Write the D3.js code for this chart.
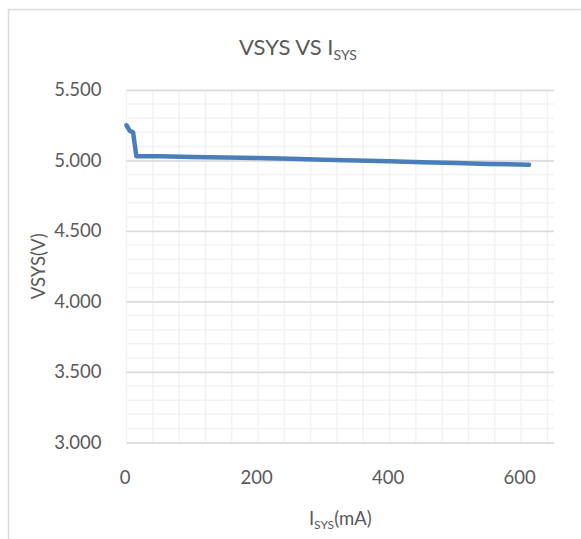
<!DOCTYPE html>
<html>
<head>
<meta charset="utf-8">
<script src="https://cdn.jsdelivr.net/npm/d3@7"></script>
<style>
  body { margin: 0; background: #fff; }
  text { font-family: Lato, "Open Sans", sans-serif; fill: #595959; }
</style>
</head>
<body>
<div id="my_dataviz"></div>
<script>
// data
var current = [0, 5, 10, 15, 50, 100, 150, 200, 250, 300, 350, 400, 450, 500, 550, 612];
var vsys = [5.25, 5.21, 5.20, 5.03, 5.03, 5.025, 5.022, 5.018, 5.012, 5.006, 5.000, 4.995, 4.988, 4.982, 4.976, 4.970];
var xTicks = [0, 200, 400, 600];
var yTicks = [3.0, 3.5, 4.0, 4.5, 5.0, 5.5];

var W = 581, H = 539;
var margin = {top: 90, right: 27, bottom: 96.5, left: 126.5},
    width = W - margin.left - margin.right,
    height = H - margin.top - margin.bottom;

var svg = d3.select("#my_dataviz")
  .append("svg")
    .attr("width", W)
    .attr("height", H);

// chart border (cropped on the right and bottom)
svg.append("rect")
  .attr("x", 8.5).attr("y", 9.5)
  .attr("width", 700).attr("height", 700)
  .attr("fill", "none")
  .attr("stroke", "#d9d9d9")
  .attr("stroke-width", 1.5);

var g = svg.append("g")
  .attr("transform", "translate(" + margin.left + "," + margin.top + ")");

var x = d3.scaleLinear().domain([0, 650]).range([0, width]);
var y = d3.scaleLinear().domain([3, 5.5]).range([height, 0]);

// minor gridlines
g.append("g")
  .selectAll("line")
  .data(d3.range(0, 651, 40))
  .enter().append("line")
    .attr("x1", function(d) { return x(d); })
    .attr("x2", function(d) { return x(d); })
    .attr("y1", 0).attr("y2", height)
    .attr("stroke", "#f2f2f2").attr("stroke-width", 1.5);

g.append("g")
  .selectAll("line")
  .data(d3.range(30, 56, 1).map(function(d) { return d / 10; }))
  .enter().append("line")
    .attr("x1", 0).attr("x2", width)
    .attr("y1", function(d) { return y(d); })
    .attr("y2", function(d) { return y(d); })
    .attr("stroke", "#f2f2f2").attr("stroke-width", 1.5);

// major gridlines + axes
g.append("g")
  .call(d3.axisLeft(y).tickValues(yTicks).tickSize(-width).tickFormat(d3.format(".3f")))
  .call(function(a) {
    a.select(".domain").remove();
    a.selectAll("line").attr("stroke", "#d9d9d9").attr("stroke-width", 1.5);
    a.selectAll("text").attr("x", -25).attr("font-size", "18.5px").attr("fill", "#595959");
  });

g.append("g")
  .attr("transform", "translate(0," + height + ")")
  .call(d3.axisBottom(x).tickValues(xTicks).tickSize(0))
  .call(function(a) {
    a.select(".domain").remove();
    a.selectAll("text").attr("dx", -2).attr("y", 28).attr("font-size", "18.5px").attr("fill", "#595959");
  });

// the curve
var line = d3.line()
  .x(function(d, i) { return x(current[i]); })
  .y(function(d) { return y(d); });

g.append("path")
  .datum(vsys)
  .attr("d", line)
  .attr("fill", "none")
  .attr("stroke", "#4a7ebb")
  .attr("stroke-width", 4.5)
  .attr("stroke-linejoin", "round")
  .attr("stroke-linecap", "round");

// title
var title = svg.append("text")
  .attr("x", 298).attr("y", 55)
  .attr("text-anchor", "middle")
  .attr("font-size", "22px");
title.append("tspan").text("VSYS VS I");
title.append("tspan").attr("font-size", "14px").attr("dy", 5).text("SYS");

// axis titles
var xt = svg.append("text")
  .attr("x", margin.left + width / 2).attr("y", 525)
  .attr("text-anchor", "middle")
  .attr("font-size", "18.5px");
xt.append("tspan").text("I");
xt.append("tspan").attr("font-size", "12px").attr("dy", 4).text("SYS");
xt.append("tspan").attr("dy", -4).text("(mA)");

svg.append("text")
  .attr("transform", "translate(45," + (margin.top + height / 2) + ") rotate(-90)")
  .attr("text-anchor", "middle")
  .attr("font-size", "18.5px")
  .text("VSYS(V)");
</script>
</body>
</html>
